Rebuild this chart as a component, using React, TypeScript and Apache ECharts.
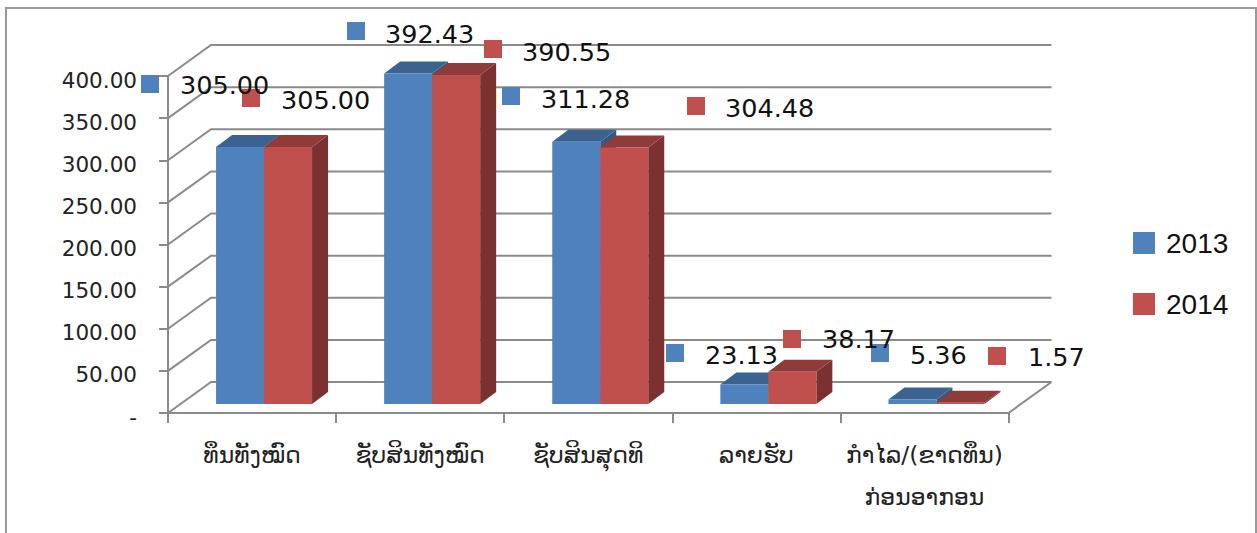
import React, { useEffect, useRef } from "react";
import * as echarts from "echarts";

const categories = ["ທຶນທັງໝົດ", "ຊັບສິນທັງໝົດ", "ຊັບສິນສຸດທິ", "ລາຍຮັບ", "ກຳໄລ/(ຂາດທຶນ)\nກ່ອນອາກອນ"];
const values2013 = [305.0, 392.43, 311.28, 23.13, 5.36];
const values2014 = [305.0, 390.55, 304.48, 38.17, 1.57];
const gridTicks = [0, 50, 100, 150, 200, 250, 300, 350, 400];

// manual data-label placement: square left/top, text left, text centre y
const labelLayout2013 = [
  [141, 75, 180, 85],
  [347, 22, 385, 34],
  [502, 87, 541, 99],
  [666, 344, 705, 355],
  [871, 344, 910, 355],
];
const labelLayout2014 = [
  [242, 89, 281, 100],
  [484, 40, 522, 52],
  [687, 97, 725, 108],
  [783, 330, 822, 339],
  [988, 347, 1028, 357],
];

const BLUE = { front: "#4F81BD", top: "#3C628F", side: "#36587F" };
const RED = { front: "#C0504D", top: "#8F3B39", side: "#7A312F" };
const LINE = "#8A8A8A";
const WALL_DX = 43;
const WALL_DY = -31;
const BAR_W = 48;
const BAR_SHIFT_X = 12;
const BAR_BASE_LIFT = 9;
const DEPTH_DX = 16;
const DEPTH_DY = -12;

function barSeries(name: string, values: number[], colors: typeof BLUE, slot: number) {
  return {
    type: "custom",
    name,
    silent: true,
    clip: false,
    z: 3,
    itemStyle: { color: colors.front },
    encode: { x: 0, y: 1 },
    data: values.map((v, i) => [i, v]),
    renderItem: (_p: any, api: any) => {
      const i = api.value(0);
      const v = api.value(1);
      const top = api.coord([i, v]);
      const base = api.coord([i, 0]);
      const x0 = top[0] + BAR_SHIFT_X + (slot - 1) * BAR_W;
      const x1 = x0 + BAR_W;
      const yT = top[1] - BAR_BASE_LIFT;
      const yB = base[1] - BAR_BASE_LIFT;
      return {
        type: "group",
        children: [
          {
            type: "polygon",
            shape: { points: [[x1, yT], [x1 + DEPTH_DX, yT + DEPTH_DY], [x1 + DEPTH_DX, yB + DEPTH_DY], [x1, yB]] },
            style: { fill: colors.side },
          },
          {
            type: "polygon",
            shape: { points: [[x0, yT], [x0 + DEPTH_DX, yT + DEPTH_DY], [x1 + DEPTH_DX, yT + DEPTH_DY], [x1, yT]] },
            style: { fill: colors.top },
          },
          { type: "rect", shape: { x: x0, y: yT, width: BAR_W, height: yB - yT }, style: { fill: colors.front } },
        ],
      };
    },
  };
}

function dataLabels(values: number[], layout: number[][], color: string) {
  const out: any[] = [];
  values.forEach((v, i) => {
    const [sx, sy, tx, ty] = layout[i];
    out.push({ type: "rect", z: 100, shape: { x: sx, y: sy, width: 18, height: 18 }, style: { fill: color } });
    out.push({
      type: "text",
      z: 101,
      x: tx,
      y: ty,
      style: {
        text: v.toFixed(2),
        fill: "#111",
        font: '25.5px "DejaVu Sans"',
        textVerticalAlign: "middle",
        verticalAlign: "middle",
      },
    });
  });
  return out;
}

export default function App() {
  const ref = useRef<HTMLDivElement>(null);
  useEffect(() => {
    const chart = echarts.init(ref.current!, undefined, { renderer: "svg" });
    chart.setOption({
      animation: false,
      backgroundColor: "#fff",
      textStyle: { fontFamily: '"DejaVu Sans"' },
      grid: { left: 168, top: 76, width: 840.5, height: 337, containLabel: false },
      legend: {
        orient: "vertical",
        left: 1128,
        top: 224,
        icon: "rect",
        itemWidth: 22,
        itemHeight: 22,
        itemGap: 33,
        data: ["2013", "2014"],
        textStyle: { fontFamily: '"Liberation Sans"', fontSize: 28, color: "#111", padding: [0, 0, 4, 6] },
        selectedMode: false,
      },
      xAxis: {
        type: "category",
        data: categories,
        boundaryGap: true,
        axisLine: { lineStyle: { color: LINE, width: 2 } },
        axisTick: { show: true, length: 10, alignWithLabel: false, lineStyle: { color: LINE, width: 2 } },
        axisLabel: {
          margin: 21,
          interval: 0,
          fontFamily: '"DejaVu Sans"',
          fontSize: 23.5,
          lineHeight: 42,
          color: "#222",
        },
      },
      yAxis: {
        type: "value",
        min: 0,
        max: 400,
        interval: 50,
        splitLine: { show: false },
        axisLine: { show: true, lineStyle: { color: LINE, width: 2 } },
        axisTick: { show: true, length: 9, lineStyle: { color: LINE, width: 2 } },
        axisLabel: {
          margin: 31,
          fontFamily: '"DejaVu Sans"',
          fontSize: 21.5,
          color: "#222",
          verticalAlign: "top",
          lineHeight: 8,
          formatter: (v: number) => (v === 0 ? "-" : v.toFixed(2)),
        },
      },
      series: [
        {
          type: "custom",
          name: "walls",
          silent: true,
          clip: false,
          z: 1,
          encode: { x: 0, y: 1 },
          data: gridTicks.map((t) => [0, t]),
          renderItem: (params: any, api: any) => {
            const v = api.value(1);
            const y = api.coord([0, v])[1];
            const sys = params.coordSys;
            const lineStyle = { stroke: LINE, lineWidth: 2, fill: "none" };
            const children: any[] = [
              {
                type: "polyline",
                shape: {
                  points: [
                    [sys.x, y],
                    [sys.x + WALL_DX, y + WALL_DY],
                    [sys.x + sys.width + WALL_DX, y + WALL_DY],
                  ],
                },
                style: lineStyle,
              },
            ];
            if (v === 0) {
              children.push({
                type: "line",
                shape: { x1: sys.x + sys.width, y1: y, x2: sys.x + sys.width + WALL_DX, y2: y + WALL_DY },
                style: lineStyle,
              });
            }
            return { type: "group", children };
          },
        },
        barSeries("2013", values2013, BLUE, 0),
        barSeries("2014", values2014, RED, 1),
      ],
      graphic: [
        {
          type: "rect",
          z: 0,
          shape: { x: 6, y: 8, width: 1250, height: 540 },
          style: { fill: "none", stroke: "#9A9A9A", lineWidth: 2 },
        },
        ...dataLabels(values2013, labelLayout2013, BLUE.front),
        ...dataLabels(values2014, labelLayout2014, RED.front),
      ],
    });
    return () => chart.dispose();
  }, []);
  return <div ref={ref} style={{ position: "fixed", left: 0, top: 0, width: 1257, height: 533 }} />;
}
